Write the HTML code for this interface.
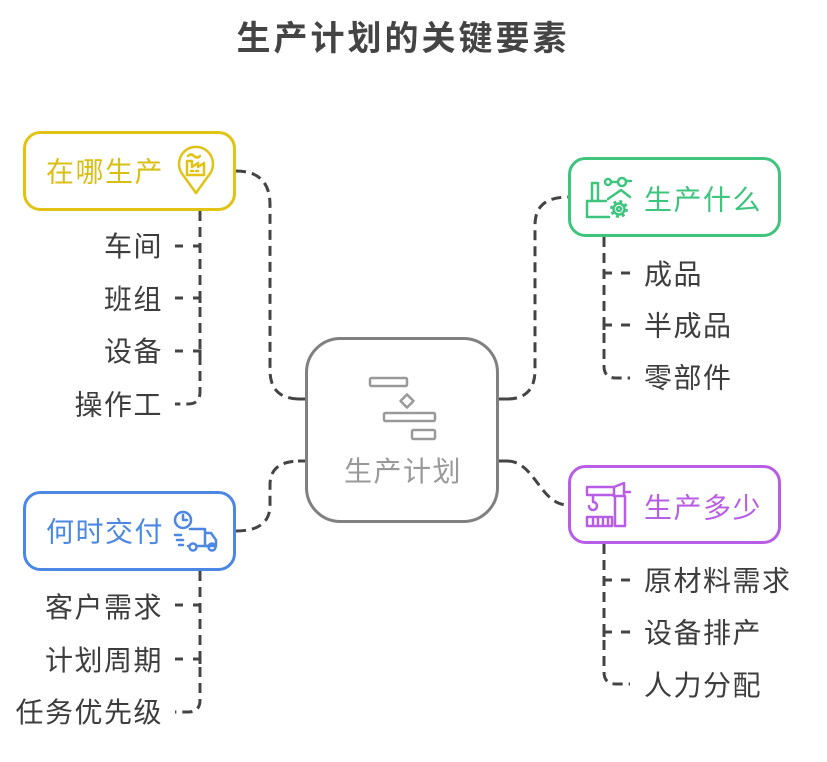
<!DOCTYPE html>
<html><head><meta charset="utf-8"><style>
html,body{margin:0;padding:0;background:#fff;}
svg{display:block;}
text{font-family:"Liberation Sans","Noto Sans CJK SC",sans-serif;}
</style></head><body>
<svg width="827" height="762" viewBox="0 0 827 762" xmlns="http://www.w3.org/2000/svg">
<rect width="827" height="762" fill="#fff"/>
<text x="403" y="50" text-anchor="middle" font-size="34" font-weight="bold" fill="#444" letter-spacing="3">生产计划的关键要素</text>

<g fill="none" stroke="#444" stroke-width="3" stroke-dasharray="10 6">
  <path d="M236,171 Q270,171 270,205 L270,370 Q270,399 300,399"/>
  <path d="M507,399 Q535,399 535,370 L535,225 Q535,197 568,197"/>
  <path d="M507,461 C535,461 540,505 568,505"/>
  <path d="M236,531 Q270,531 270,505 L270,485 Q270,461 300,461"/>
  <!-- vertical trunks with last child curve -->
  <path d="M200,211 V392 Q200,404 188,404 H175"/>
  <path d="M604,237 V366 Q604,378 616,378 H630"/>
  <path d="M604,544 V672 Q604,684 616,684 H630"/>
  <path d="M200,571 V700 Q200,712 188,712 H175"/>
</g>
<!-- child stubs -->
<g fill="none" stroke="#444" stroke-width="3">
  <path d="M175,246 H183 M193,246 H200 V251"/>
  <path d="M175,298 H183 M193,298 H200 V303"/>
  <path d="M175,351 H183 M193,351 H200 V356"/>
  <path d="M175,605 H183 M193,605 H200 V610"/>
  <path d="M175,659 H183 M193,659 H200 V664"/>
  <path d="M604,278 V273 H612 M621,273 H630"/>
  <path d="M604,330 V325 H612 M621,325 H630"/>
  <path d="M604,585 V580 H612 M621,580 H630"/>
  <path d="M604,637 V632 H612 M621,632 H630"/>
</g>

<!-- center box -->
<g stroke="#444" stroke-width="3">
  <line x1="298" y1="399" x2="307" y2="399"/>
  <line x1="298" y1="461" x2="307" y2="461"/>
  <line x1="498" y1="399" x2="507" y2="399"/>
  <line x1="498" y1="461" x2="507" y2="461"/>
</g>
<rect x="306.5" y="338.5" width="191" height="183" rx="34" fill="#fff" stroke="#808080" stroke-width="3"/>
<g fill="none" stroke="#999" stroke-width="2.5" stroke-linejoin="round">
  <rect x="370" y="378" width="37" height="8" rx="1.5"/>
  <path d="M407,394.5 L413.5,401 L407,407.5 L400.5,401 Z"/>
  <rect x="384" y="413" width="51" height="8" rx="1.5"/>
  <rect x="412" y="430" width="23" height="9" rx="1.5"/>
</g>
<text x="403" y="481" text-anchor="middle" font-size="28" fill="#999" letter-spacing="1.5">生产计划</text>

<!-- yellow box -->
<rect x="24.5" y="132.5" width="210" height="77" rx="16" fill="#fff" stroke="#e1c315" stroke-width="3"/>
<text x="46" y="181.5" font-size="28" fill="#d9be14" letter-spacing="1.5">在哪生产</text>
<g fill="none" stroke="#e1c315" stroke-width="2.5" stroke-linejoin="round" stroke-linecap="round">
  <path d="M196,193 L182.3,174 A17,17 0 1 1 209.7,174 Z"/>
  <path d="M187,175 V161 H192 V167 L198,163 V167 L204,163 V175 Z"/>
  <path d="M188,156 q3,-3 6,0 t6,0"/>
  <path d="M191,171 H193 M196,171 H198"/>
</g>

<!-- green box -->
<rect x="569.5" y="158.5" width="210" height="77" rx="16" fill="#fff" stroke="#3fc47e" stroke-width="3"/>
<text x="644" y="209.5" font-size="28" fill="#3fc47e" letter-spacing="1.5">生产什么</text>
<g fill="none" stroke="#3fc47e" stroke-width="2.5" stroke-linejoin="round" stroke-linecap="round">
  <path d="M592,200 V183 H598 V200"/>
  <path d="M587,217 V201 H606"/>
  <path d="M587,217 H609"/>
  <path d="M608,199 L621,190 L630,197"/>
  <circle cx="608" cy="182" r="3"/>
  <circle cx="622" cy="182" r="4"/>
  <path d="M611,182 H618 M626,181 H631"/>
  <circle cx="619" cy="209" r="5.5"/>
  <circle cx="619" cy="209" r="2"/>
  <circle cx="619" cy="209" r="7.5" stroke-width="3" stroke-dasharray="2.9 3" stroke-linecap="butt"/>
</g>

<!-- purple box -->
<rect x="569.5" y="466.5" width="210" height="76" rx="16" fill="#fff" stroke="#b85ee6" stroke-width="3"/>
<text x="644" y="517.5" font-size="28" fill="#b85ee6" letter-spacing="1.5">生产多少</text>
<g fill="none" stroke="#b85ee6" stroke-width="2.5" stroke-linejoin="round" stroke-linecap="round">
  <path d="M614,487 H587 V495 H614"/>
  <path d="M615,496 V526 H625 V496"/>
  <path d="M614,496 V487 L624,483 V496 Z"/>
  <path d="M625,492 H630"/>
  <path d="M593,495 V502 a4,4 0 1 1 -4,4"/>
  <rect x="587" y="517" width="25" height="9"/>
  <path d="M593,519 V524 M598,519 V524 M603,519 V524 M608,519 V524"/>
</g>

<!-- blue box -->
<rect x="24.5" y="492.5" width="210" height="77" rx="16" fill="#fff" stroke="#4b87e3" stroke-width="3"/>
<text x="46" y="541.5" font-size="28" fill="#4b87e3" letter-spacing="1.5">何时交付</text>
<g fill="none" stroke="#4b87e3" stroke-width="2.5" stroke-linejoin="round" stroke-linecap="round">
  <circle cx="183" cy="520" r="8"/>
  <path d="M183,515 V520 H187"/>
  <path d="M190,529 H205 V546 H216 V540 L211,533 H205"/>
  <path d="M188,546 H189"/>
  <path d="M197,546 H208"/>
  <circle cx="193" cy="547" r="3.5"/>
  <circle cx="212" cy="547" r="3.5"/>
  <path d="M175,535 H181 M177,540 H183 M179,545 H183"/>
</g>

<!-- children text -->
<g font-size="28" fill="#3d3d3d" letter-spacing="1.5">
  <text x="163" y="256" text-anchor="end">车间</text>
  <text x="163" y="309" text-anchor="end">班组</text>
  <text x="163" y="361" text-anchor="end">设备</text>
  <text x="163" y="414.5" text-anchor="end">操作工</text>
  <text x="644" y="284">成品</text>
  <text x="644" y="335.5">半成品</text>
  <text x="644" y="387.5">零部件</text>
  <text x="644" y="590.5">原材料需求</text>
  <text x="644" y="642.5">设备排产</text>
  <text x="644" y="695">人力分配</text>
  <text x="163" y="617" text-anchor="end">客户需求</text>
  <text x="163" y="670" text-anchor="end">计划周期</text>
  <text x="163" y="722" text-anchor="end">任务优先级</text>
</g>
</svg>
</body></html>
